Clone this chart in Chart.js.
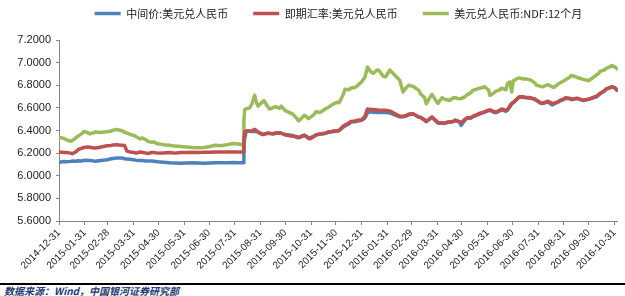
<!DOCTYPE html>
<html>
<head>
<meta charset="utf-8">
<script src="https://cdn.jsdelivr.net/npm/chart.js@4.4.1/dist/chart.umd.min.js"></script>
<style>
body{margin:0;background:#fff;}
#wrap{position:relative;width:625px;height:296px;overflow:hidden;}
#rule{position:absolute;left:0;top:283px;width:625px;border-top:2px solid #000;}
#src{position:absolute;left:4px;top:286px;font:italic bold 10px/10px "Noto Sans CJK SC";color:#1F3B73;}
</style>
</head>
<body>
<div id="wrap">
<canvas id="line-chart" width="625" height="283"></canvas>
<div id="rule"></div>
<div id="src">数据来源：Wind，中国银河证券研究部</div>
</div>
<script>
var seriesNames = ["中间价:美元兑人民币","即期汇率:美元兑人民币","美元兑人民币:NDF:12个月"];
var tickLabels = ["2014-12-31","2015-01-31","2015-02-28","2015-03-31","2015-04-30","2015-05-31","2015-06-30","2015-07-31","2015-08-31","2015-09-30","2015-10-31","2015-11-30","2015-12-31","2016-01-31","2016-02-29","2016-03-31","2016-04-30","2016-05-31","2016-06-30","2016-07-31","2016-08-31","2016-09-30","2016-10-31"];
var yTicks = [5.6,5.8,6.0,6.2,6.4,6.6,6.8,7.0,7.2];

var dates = ["2014-12-31","2015-01-06","2015-01-09","2015-01-14","2015-01-16","2015-01-21","2015-01-23","2015-01-28","2015-01-30","2015-02-04",
"2015-02-06","2015-02-11","2015-02-13","2015-02-17","2015-02-27","2015-03-04","2015-03-06","2015-03-11","2015-03-13","2015-03-18",
"2015-03-20","2015-03-23","2015-03-27","2015-04-01","2015-04-03","2015-04-08","2015-04-10","2015-04-15","2015-04-17","2015-04-22",
"2015-04-24","2015-04-29","2015-05-06","2015-05-13","2015-05-20","2015-05-27","2015-06-03","2015-06-10","2015-06-17","2015-06-24",
"2015-07-01","2015-07-08","2015-07-15","2015-07-22","2015-07-29","2015-08-05","2015-08-10","2015-08-11","2015-08-12","2015-08-14",
"2015-08-18","2015-08-21","2015-08-24","2015-08-26","2015-08-28","2015-09-02","2015-09-04","2015-09-09","2015-09-11","2015-09-16",
"2015-09-18","2015-09-23","2015-09-25","2015-09-30","2015-10-09","2015-10-14","2015-10-16","2015-10-21","2015-10-23","2015-10-28",
"2015-10-30","2015-11-04","2015-11-06","2015-11-11","2015-11-13","2015-11-18","2015-11-20","2015-11-25","2015-11-27","2015-12-02",
"2015-12-04","2015-12-09","2015-12-11","2015-12-16","2015-12-18","2015-12-23","2015-12-25","2015-12-31","2016-01-04","2016-01-07",
"2016-01-11","2016-01-14","2016-01-19","2016-01-21","2016-01-26","2016-01-29","2016-02-03","2016-02-05","2016-02-15","2016-02-19",
"2016-02-23","2016-02-26","2016-03-02","2016-03-04","2016-03-09","2016-03-11","2016-03-16","2016-03-18","2016-03-23","2016-03-25",
"2016-03-30","2016-04-01","2016-04-06","2016-04-08","2016-04-13","2016-04-15","2016-04-20","2016-04-22","2016-04-27","2016-04-29",
"2016-05-04","2016-05-06","2016-05-11","2016-05-13","2016-05-18","2016-05-20","2016-05-25","2016-05-27","2016-06-01","2016-06-03",
"2016-06-08","2016-06-10","2016-06-15","2016-06-17","2016-06-22","2016-06-24","2016-06-27","2016-06-29","2016-07-01","2016-07-06",
"2016-07-08","2016-07-13","2016-07-15","2016-07-20","2016-07-22","2016-07-27","2016-07-29","2016-08-03","2016-08-05","2016-08-10",
"2016-08-12","2016-08-17","2016-08-19","2016-08-24","2016-08-26","2016-08-31","2016-09-02","2016-09-07","2016-09-09","2016-09-14",
"2016-09-16","2016-09-21","2016-09-23","2016-09-28","2016-09-30","2016-10-10","2016-10-12","2016-10-14","2016-10-19","2016-10-21",
"2016-10-26","2016-10-28","2016-11-01","2016-11-03"];

var midRate = [6.120,6.125,6.123,6.127,6.130,6.128,6.133,6.130,6.137,6.134,
6.136,6.130,6.128,6.132,6.142,6.150,6.152,6.157,6.156,6.156,
6.150,6.147,6.145,6.140,6.138,6.135,6.134,6.131,6.130,6.130,
6.128,6.123,6.120,6.115,6.112,6.110,6.113,6.115,6.112,6.110,
6.112,6.115,6.116,6.116,6.117,6.116,6.116,6.230,6.330,6.396,
6.394,6.392,6.390,6.395,6.387,6.370,6.368,6.375,6.373,6.370,
6.375,6.378,6.375,6.365,6.355,6.345,6.340,6.355,6.358,6.338,
6.335,6.352,6.360,6.368,6.370,6.375,6.382,6.388,6.392,6.396,
6.400,6.430,6.440,6.460,6.475,6.478,6.482,6.490,6.510,6.555,
6.565,6.562,6.560,6.562,6.560,6.560,6.555,6.550,6.520,6.522,
6.530,6.540,6.545,6.540,6.518,6.515,6.490,6.478,6.505,6.515,
6.480,6.465,6.465,6.462,6.470,6.472,6.480,6.490,6.475,6.445,
6.495,6.505,6.510,6.520,6.535,6.542,6.555,6.560,6.575,6.578,
6.560,6.558,6.575,6.585,6.570,6.580,6.610,6.635,6.645,6.680,
6.692,6.695,6.690,6.688,6.685,6.675,6.665,6.640,6.638,6.650,
6.652,6.625,6.635,6.650,6.660,6.675,6.685,6.680,6.672,6.680,
6.682,6.670,6.665,6.672,6.675,6.700,6.715,6.728,6.750,6.765,
6.778,6.785,6.772,6.755];

var spotRate = [6.210,6.205,6.205,6.200,6.195,6.215,6.230,6.245,6.250,6.255,
6.252,6.245,6.245,6.250,6.265,6.268,6.272,6.275,6.272,6.270,
6.268,6.218,6.210,6.205,6.200,6.210,6.208,6.200,6.197,6.205,
6.205,6.200,6.202,6.205,6.200,6.206,6.205,6.208,6.206,6.207,
6.208,6.210,6.210,6.209,6.210,6.209,6.210,6.320,6.390,6.395,
6.396,6.397,6.410,6.400,6.385,6.365,6.365,6.378,6.375,6.372,
6.378,6.380,6.378,6.360,6.350,6.340,6.335,6.350,6.357,6.330,
6.328,6.350,6.362,6.370,6.372,6.378,6.386,6.392,6.395,6.398,
6.402,6.440,6.448,6.468,6.480,6.485,6.488,6.495,6.525,6.590,
6.585,6.585,6.582,6.580,6.580,6.578,6.572,6.565,6.525,6.525,
6.532,6.545,6.548,6.540,6.520,6.518,6.495,6.480,6.510,6.520,
6.485,6.470,6.468,6.465,6.475,6.475,6.482,6.492,6.478,6.468,
6.500,6.512,6.515,6.525,6.540,6.548,6.560,6.565,6.580,6.582,
6.565,6.562,6.580,6.590,6.578,6.585,6.620,6.640,6.648,6.685,
6.698,6.698,6.695,6.692,6.688,6.678,6.668,6.645,6.640,6.655,
6.658,6.640,6.640,6.655,6.665,6.680,6.690,6.685,6.676,6.684,
6.686,6.673,6.668,6.675,6.678,6.705,6.718,6.730,6.752,6.768,
6.782,6.788,6.775,6.758];

var ndf12m = [6.340,6.330,6.318,6.305,6.310,6.340,6.350,6.375,6.392,6.380,
6.370,6.380,6.388,6.382,6.388,6.395,6.402,6.410,6.404,6.395,
6.385,6.378,6.365,6.355,6.345,6.325,6.335,6.318,6.305,6.295,
6.300,6.282,6.275,6.270,6.262,6.258,6.255,6.250,6.248,6.250,
6.258,6.270,6.265,6.275,6.285,6.280,6.272,6.480,6.585,6.592,
6.600,6.640,6.712,6.650,6.615,6.650,6.665,6.610,6.590,6.605,
6.610,6.595,6.615,6.575,6.545,6.505,6.485,6.520,6.535,6.505,
6.515,6.545,6.565,6.560,6.570,6.595,6.600,6.625,6.635,6.650,
6.645,6.720,6.765,6.760,6.775,6.780,6.790,6.830,6.870,6.960,
6.920,6.905,6.935,6.930,6.880,6.875,6.935,6.920,6.845,6.740,
6.780,6.800,6.790,6.780,6.755,6.725,6.690,6.635,6.700,6.720,
6.660,6.640,6.690,6.680,6.670,6.665,6.690,6.690,6.680,6.682,
6.700,6.715,6.735,6.755,6.765,6.772,6.780,6.788,6.760,6.710,
6.735,6.748,6.760,6.775,6.760,6.815,6.830,6.740,6.840,6.860,
6.865,6.855,6.858,6.850,6.845,6.820,6.800,6.790,6.785,6.800,
6.805,6.785,6.780,6.810,6.820,6.840,6.848,6.870,6.888,6.875,
6.868,6.858,6.852,6.845,6.840,6.895,6.905,6.925,6.935,6.950,
6.965,6.975,6.960,6.945];

var startDate = "2014-12-31";
var endDate = "2016-11-04";

function dayOf(d){
	return (Date.parse(d) - Date.parse(startDate)) / 86400000;
}
function pts(vals){
	var out = [];
	for (var i = 0; i < vals.length; i++) {
		out.push({x: dayOf(dates[i]), y: vals[i]});
	}
	return out;
}

// legend needs more height than chart.js gives it
var legendHeight = {
	id: "legendHeight",
	beforeInit: function(chart){
		var fit = chart.legend.fit;
		chart.legend.fit = function(){
			fit.call(this);
			this.height = 57;
		};
	}
};

var axisGrey = "#868686";
var colors = ["#4F81BD", "#C0504D", "#9BBB59"];

function makeSet(i, vals, order){
	return {
		label: seriesNames[i],
		data: pts(vals),
		borderColor: colors[i],
		backgroundColor: colors[i],
		pointBorderColor: colors[i],
		pointBackgroundColor: colors[i],
		pointBorderWidth: 3.5,
		order: order
	};
}

new Chart(document.getElementById("line-chart"), {
	type: "line",
	data: {
		datasets: [makeSet(0, midRate, 3), makeSet(1, spotRate, 1), makeSet(2, ndf12m, 2)]
	},
	options: {
		responsive: false,
		animation: false,
		layout: {padding: {top: -17, right: 0, left: 0, bottom: 0}},
		elements: {
			line: {borderWidth: 3.5, tension: 0, borderCapStyle: "round", borderJoinStyle: "round"},
			point: {radius: 0, pointStyle: "line"}
		},
		plugins: {
			tooltip: {enabled: false},
			legend: {
				position: "top",
				fullSize: false,
				labels: {
					usePointStyle: true,
					pointStyle: "line",
					pointStyleWidth: 26,
					padding: 25,
					color: "#222",
					font: {family: "'Noto Sans CJK SC'", size: 11},
					sort: function(a, b){ return a.datasetIndex - b.datasetIndex; }
				}
			}
		},
		scales: {
			x: {
				type: "linear",
				min: 0,
				max: dayOf(endDate),
				afterBuildTicks: function(scale){
					scale.ticks = tickLabels.map(function(d){ return {value: dayOf(d)}; });
				},
				afterFit: function(scale){ scale.height = 62; },
				grid: {drawOnChartArea: false, tickLength: 4, color: axisGrey},
				border: {color: axisGrey},
				ticks: {
					autoSkip: false,
					minRotation: 45,
					maxRotation: 45,
					padding: 2,
					color: "#222",
					font: {family: "'Liberation Sans'", size: 10},
					callback: function(v, i){ return tickLabels[i]; }
				}
			},
			y: {
				min: yTicks[0],
				max: yTicks[yTicks.length - 1],
				afterBuildTicks: function(scale){
					scale.ticks = yTicks.map(function(v){ return {value: v}; });
				},
				afterFit: function(scale){ scale.width = 59; },
				grid: {drawOnChartArea: false, tickLength: 3, color: axisGrey},
				border: {color: axisGrey},
				ticks: {
					padding: 5,
					color: "#222",
					font: {family: "'Liberation Sans'", size: 11},
					callback: function(v){ return v.toFixed(4); }
				}
			}
		}
	},
	plugins: [legendHeight]
});
</script>
</body>
</html>
